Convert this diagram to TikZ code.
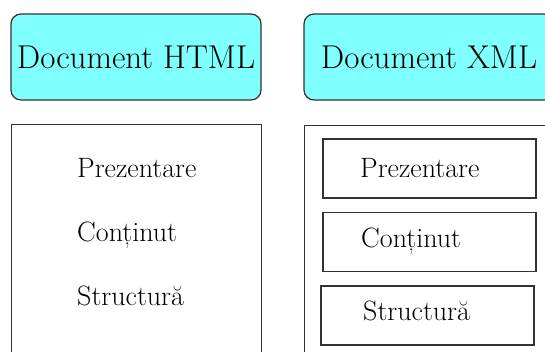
\documentclass[tikz,border=0pt]{standalone}
\definecolor{headfill}{RGB}{128,255,255}
\definecolor{edge}{RGB}{50,50,50}
\tikzset{
  headbox/.style={draw=edge, line width=1.2pt, fill=headfill, rounded corners=10pt,
    minimum width=250pt, minimum height=86pt, inner sep=0pt, font=\fontsize{33}{36}\selectfont},
  outerbox/.style={draw=edge, line width=1.2pt, inner sep=0pt},
  itembox/.style={draw=edge, line width=1.2pt, inner sep=0pt, minimum width=213pt, minimum height=59pt},
  itemtext/.style={anchor=base west, inner sep=0pt, font=\fontsize{28}{30}\selectfont}
}
\begin{document}
\begin{tikzpicture}[x=1pt,y=-1pt]
\useasboundingbox (0,0) rectangle (545,351);
\clip (0,0) rectangle (545,351);
\fill[white] (0,0) rectangle (545,351);
% headers
\node[headbox] (html) at (136,57) {Document HTML};
\node[headbox] (xml) at (429,57) {Document XML};
% outer panels
\node[outerbox, minimum width=250pt, minimum height=240pt, anchor=north west] (lpanel) at (11,124) {};
\node[outerbox, minimum width=260pt, minimum height=240pt, anchor=north west] (rpanel) at (304,125) {};
% left texts
\node[itemtext] (lp) at (77,177) {Prezentare};
\node[itemtext] (lc) at (77,241) {Conținut};
\node[itemtext] (ls) at (77,305) {Structură};
% right boxes
\node[itembox] (rb1) at (429.5,168.5) {};
\node[itembox] (rb2) at (429.5,242) {};
\node[itembox] (rb3) at (427.5,315.5) {};
\node[itemtext] (rp) at (360,177) {Prezentare};
\node[itemtext] (rc) at (361,247) {Conținut};
\node[itemtext] (rs) at (363,320) {Structură};
\end{tikzpicture}
\end{document}
